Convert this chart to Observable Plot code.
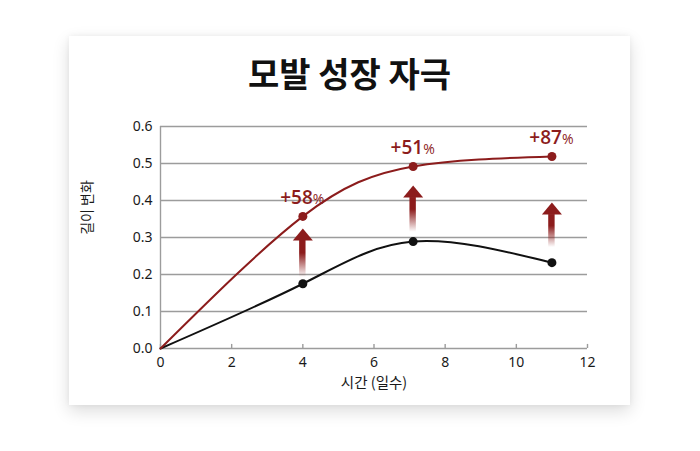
<!DOCTYPE html>
<html>
<head>
<meta charset="utf-8">
<script src="https://cdn.jsdelivr.net/npm/d3@7"></script>
<script src="https://cdn.jsdelivr.net/npm/@observablehq/plot@0.6"></script>
<style>
  html, body { margin: 0; padding: 0; background: #ffffff; width: 700px; height: 451px; overflow: hidden; }
  #card { position: absolute; left: 69px; top: 36px; width: 561px; height: 369px; background: #fff;
          box-shadow: 0 6px 16px rgba(0,0,0,0.14), 0 0 6px rgba(0,0,0,0.05); }
  #title { position: absolute; left: 0; top: 17px; width: 561px; text-align: center;
           font-family: "Noto Sans CJK KR", "Noto Sans", sans-serif; font-weight: 700; font-size: 34px; line-height: 40px; color: #111; }
  #chart { position: absolute; left: 0; top: 74px; }
</style>
</head>
<body>
<div id="card">
  <div id="title">모발 성장 자극</div>
  <div id="chart"></div>
</div>
<script>
// ---- data ----
const days = [0, 4, 7.1, 11];
const control = [0, 0.175, 0.289, 0.232];
const treated = [0, 0.357, 0.492, 0.519];
const labelDays = [4, 7.1, 11];
const labels = ["+58", "+51", "+87"];
const arrowBottom = [0.192, 0.314, 0.273];
const arrowBase = [0.292, 0.408, 0.362];
const xTicks = [0, 2, 4, 6, 8, 10, 12];
const yTicks = [0, 0.1, 0.2, 0.3, 0.4, 0.5, 0.6];
const xLabel = "시간 (일수)";
const yLabel = "길이 변화";

const RED = "#8c1c1c";
const controlData = days.map((d, i) => ({x: d, y: control[i]}));
const treatedData = days.map((d, i) => ({x: d, y: treated[i]}));
const arrows = labelDays.map((d, i) => ({x: d, y1: arrowBottom[i], y2: arrowBase[i]}));
const labelData = labelDays.map((d, i) => ({x: d, y: treated[i + 1], t: labels[i]}));

const arrowHead = {
  draw(ctx) { ctx.moveTo(-10, 0); ctx.lineTo(10, 0); ctx.lineTo(0, -12); ctx.closePath(); }
};

const chart = Plot.plot({
  width: 561,
  height: 290,
  marginTop: 16,
  marginBottom: 52,
  marginLeft: 91,
  marginRight: 43,
  style: {fontFamily: "'Noto Sans', sans-serif", fontSize: "14px", color: "#1a1a1a", background: "transparent", overflow: "visible"},
  x: {domain: [0, 12], ticks: xTicks, tickSize: 0, tickPadding: 9, label: null, tickFormat: d => String(d)},
  y: {domain: [0, 0.6], ticks: yTicks, tickSize: 0, tickPadding: 8, label: null, tickFormat: d3.format(".1f")},
  marks: [
    Plot.ruleY(yTicks, {stroke: "#9c9c9c", strokeWidth: 1.4}),
    Plot.ruleX([0], {stroke: "#9c9c9c", strokeWidth: 1.4}),
    Plot.ruleX(xTicks, {y1: 0, y2: 0.011, stroke: "#9c9c9c", strokeWidth: 1.4}),
    Plot.rect(arrows, {x1: d => d.x - 0.09, x2: d => d.x + 0.09, y1: "y1", y2: "y2", fill: "url(#arrowGrad)"}),
    Plot.dot(arrows, {x: "x", y: "y2", symbol: arrowHead, fill: RED, stroke: "none"}),
    Plot.line(controlData, {x: "x", y: "y", curve: "natural", stroke: "#111", strokeWidth: 2}),
    Plot.line(treatedData, {x: "x", y: "y", curve: "natural", stroke: RED, strokeWidth: 2}),
    Plot.dot(controlData.slice(1), {x: "x", y: "y", r: 4.5, fill: "#111", stroke: "none"}),
    Plot.dot(treatedData.slice(1), {x: "x", y: "y", r: 4.5, fill: RED, stroke: "none"}),
    Plot.text(labelData, {x: "x", y: "y", text: "t", textAnchor: "end", lineAnchor: "bottom", dx: 10, dy: -12,
      fill: RED, fontSize: 19, fontWeight: 600, fontFamily: "'Open Sans', sans-serif"}),
    Plot.text(labelData, {x: "x", y: "y", text: () => "%", textAnchor: "start", lineAnchor: "bottom", dx: 10, dy: -12,
      fill: RED, fontSize: 14, fontFamily: "'Open Sans', sans-serif"}),
    Plot.text([xLabel], {frameAnchor: "bottom", text: d => d, textAnchor: "middle", lineAnchor: "middle", dy: 35, fontSize: 14.5, fontFamily: "'Noto Sans CJK KR', sans-serif", fill: "#1a1a1a"}),
    Plot.text([yLabel], {frameAnchor: "left", text: d => d, textAnchor: "middle", lineAnchor: "middle", rotate: -90, dx: -73, dy: -30, fontSize: 14, fontFamily: "'Noto Sans CJK KR', sans-serif", fill: "#1a1a1a"})
  ]
});

const svgEl = chart.tagName.toLowerCase() === "svg" ? chart : chart.querySelector("svg");
const defs = d3.select(svgEl).insert("defs", ":first-child");
const grad = defs.append("linearGradient").attr("id", "arrowGrad").attr("x1", 0).attr("y1", 0).attr("x2", 0).attr("y2", 1);
grad.append("stop").attr("offset", "0").attr("stop-color", RED).attr("stop-opacity", 1);
grad.append("stop").attr("offset", "0.35").attr("stop-color", RED).attr("stop-opacity", 1);
grad.append("stop").attr("offset", "1").attr("stop-color", RED).attr("stop-opacity", 0);

document.getElementById("chart").appendChild(chart);
</script>
</body>
</html>
